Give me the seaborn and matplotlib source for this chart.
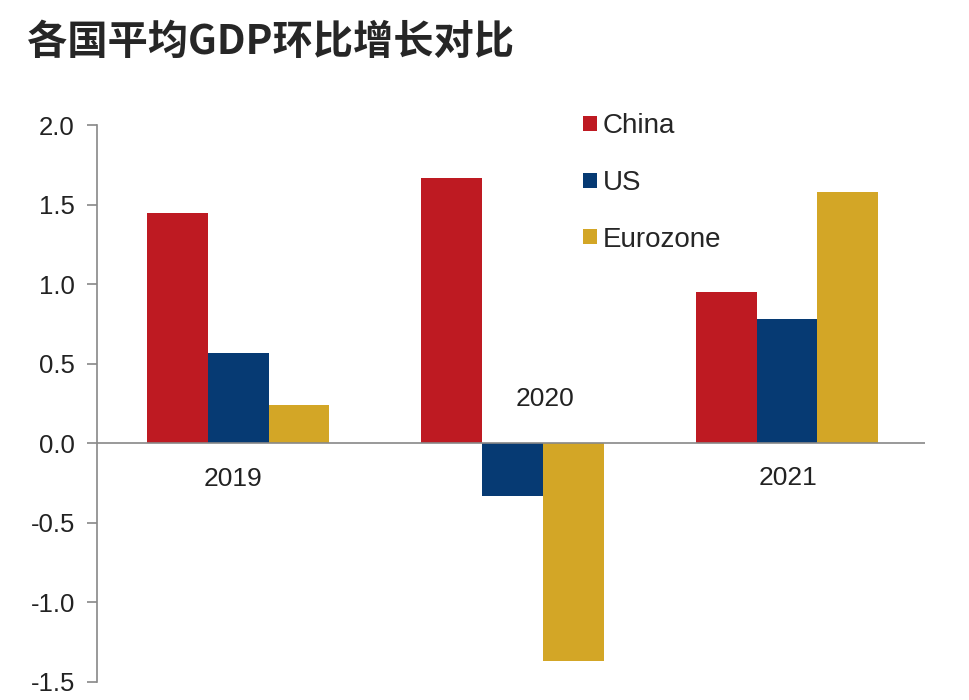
import matplotlib
matplotlib.use("Agg")
import matplotlib.pyplot as plt
import seaborn as sns
import pandas as pd

years = ["2019", "2020", "2021"]
countries = ["China", "US", "Eurozone"]
china = [1.45, 1.67, 0.95]
us = [0.57, -0.33, 0.78]
eurozone = [0.24, -1.37, 1.58]
colors = ["#BE1A22", "#063A73", "#D3A626"]
yticks = [-1.5, -1.0, -0.5, 0.0, 0.5, 1.0, 1.5, 2.0]

rows = []
for c, vals in zip(countries, [china, us, eurozone]):
    for y, v in zip(years, vals):
        rows.append({"year": y, "country": c, "value": v})
df = pd.DataFrame(rows)

sns.set_theme(style="white")
plt.rcParams["font.family"] = ["Liberation Sans", "Noto Sans CJK SC", "DejaVu Sans"]

fig = plt.figure(figsize=(9.7, 7.0), dpi=100)
ax = fig.add_axes([0.1, 0.026, 0.854, 0.795])

sns.barplot(data=df, x="year", y="value", hue="country", hue_order=countries,
            order=years, palette=colors, saturation=1, width=0.664, gap=0,
            errorbar=None, ax=ax, linewidth=0)

ax.set_xlim(-0.515, 2.505)
ax.set_ylim(-1.5, 2.0)
ax.set_yticks(yticks)
ax.set_yticklabels([f"{t:.1f}" for t in yticks], fontsize=18.5, color="#222222")
ax.set_xticks([])
ax.set_xlabel("")
ax.set_ylabel("")
for s in ["top", "right", "bottom"]:
    ax.spines[s].set_visible(False)
ax.spines["left"].set_color("#888888")
ax.spines["left"].set_linewidth(1.2)
ax.tick_params(axis="y", which="major", left=True, length=7, width=1.2,
               color="#888888", pad=9, direction="out")
ax.axhline(0, color="#888888", linewidth=1.2, zorder=3)

# category labels
label_x = [-0.02, 1.117, 2.005]
label_y = [-0.226, 0.28, -0.22]
for yr, lx, ly in zip(years, label_x, label_y):
    ax.text(lx, ly, yr, ha="center", va="center", fontsize=19, color="#222222")

handles, labels = ax.get_legend_handles_labels()
ax.legend(handles, labels, loc="upper left", bbox_to_anchor=(0.601, 0.838),
          bbox_transform=fig.transFigure, frameon=False, fontsize=20,
          handlelength=0.5, handleheight=0.45, handletextpad=0.22,
          labelspacing=1.1, borderaxespad=0, borderpad=0)

fig.text(0.028, 0.939, "各国平均GDP环比增长对比", fontsize=29, fontweight="bold",
         family=["Noto Sans CJK SC", "DejaVu Sans"], ha="left", va="center")

fig.savefig("out.png", dpi=100)
